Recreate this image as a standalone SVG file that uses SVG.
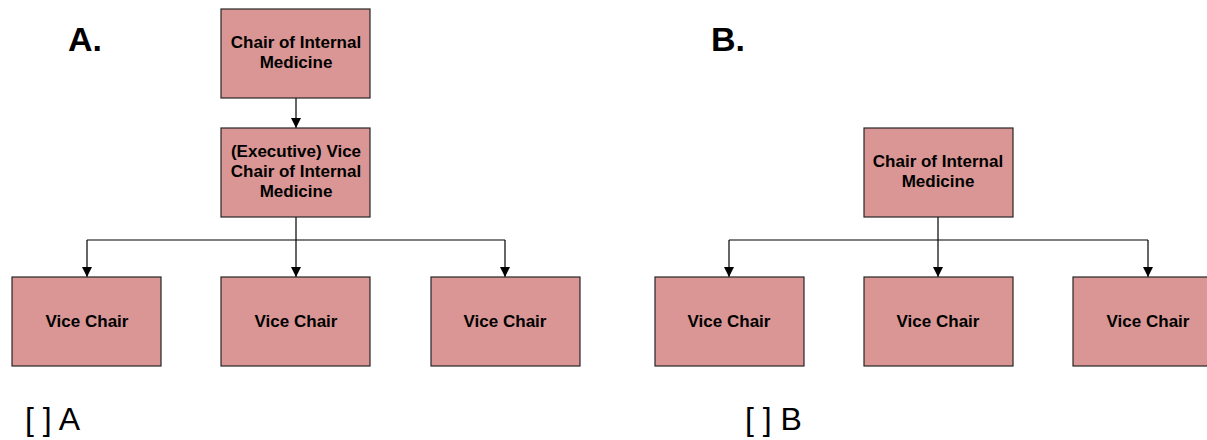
<svg xmlns="http://www.w3.org/2000/svg" width="1207" height="440" viewBox="0 0 1207 440">
<style>
.box{fill:#d99694;stroke:#262626;stroke-width:1.2}
.t{font-family:"Liberation Sans",Arial,sans-serif;font-weight:bold;font-size:17px;fill:#000;text-anchor:middle}
.h{font-family:"Liberation Sans",Arial,sans-serif;font-weight:bold;font-size:34px;fill:#000}
.l{font-family:"Liberation Sans",Arial,sans-serif;font-size:32px;fill:#000}
.c{fill:none;stroke:#000;stroke-width:1.2}
</style>
<defs>
<marker id="ar" viewBox="0 0 10 10" refX="10" refY="5" markerWidth="10" markerHeight="10" markerUnits="userSpaceOnUse" orient="auto">
<path d="M0,0 L10,5 L0,10 z" fill="#000"/>
</marker>
</defs>
<rect width="1207" height="440" fill="#fff"/>
<text class="h" x="68" y="51">A.</text>
<text class="h" x="711" y="51">B.</text>
<g id="connectors">
<path class="c" d="M296,98 V128" marker-end="url(#ar)"/>
<path class="c" d="M296,217 V277" marker-end="url(#ar)"/>
<path class="c" d="M87,240 H505"/>
<path class="c" d="M87,240 V277" marker-end="url(#ar)"/>
<path class="c" d="M505,240 V277" marker-end="url(#ar)"/>
<path class="c" d="M938,217 V277" marker-end="url(#ar)"/>
<path class="c" d="M729,240 H1148"/>
<path class="c" d="M729,240 V277" marker-end="url(#ar)"/>
<path class="c" d="M1148,240 V277" marker-end="url(#ar)"/>
</g>
<g id="a-chair"><rect class="box" x="221" y="9" width="149" height="89"/><text class="t" x="296" y="48">Chair of Internal</text><text class="t" x="296" y="68">Medicine</text></g>
<g id="a-exec"><rect class="box" x="221" y="128" width="149" height="89"/><text class="t" x="296" y="157">(Executive) Vice</text><text class="t" x="296" y="177">Chair of Internal</text><text class="t" x="296" y="197">Medicine</text></g>
<g id="a-vc1"><rect class="box" x="12" y="277" width="149" height="89"/><text class="t" x="87" y="327">Vice Chair</text></g>
<g id="a-vc2"><rect class="box" x="221" y="277" width="149" height="89"/><text class="t" x="296" y="327">Vice Chair</text></g>
<g id="a-vc3"><rect class="box" x="431" y="277" width="149" height="89"/><text class="t" x="505" y="327">Vice Chair</text></g>
<g id="b-chair"><rect class="box" x="864" y="128" width="149" height="89"/><text class="t" x="938" y="167">Chair of Internal</text><text class="t" x="938" y="187">Medicine</text></g>
<g id="b-vc1"><rect class="box" x="655" y="277" width="149" height="89"/><text class="t" x="729" y="327">Vice Chair</text></g>
<g id="b-vc2"><rect class="box" x="864" y="277" width="149" height="89"/><text class="t" x="938" y="327">Vice Chair</text></g>
<g id="b-vc3"><rect class="box" x="1073" y="277" width="149" height="89"/><text class="t" x="1148" y="327">Vice Chair</text></g>
<text class="l" x="25" y="430">[ ] A</text>
<text class="l" x="745" y="430">[ ] B</text>
</svg>
